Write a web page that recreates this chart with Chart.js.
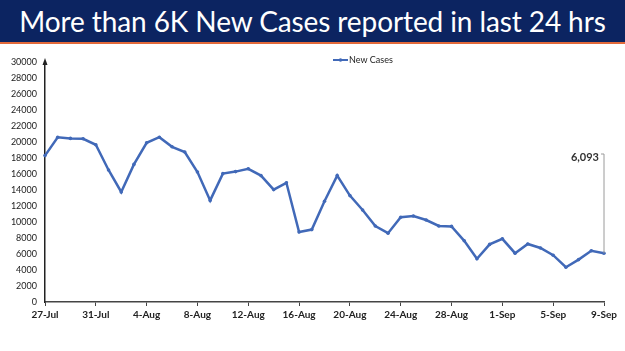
<!DOCTYPE html>
<html lang="en">
<head>
<meta charset="UTF-8" />
<title>New Cases</title>
<script src="https://cdn.jsdelivr.net/npm/chart.js"></script>
<style>
  body { margin: 0; width: 625px; height: 351px; background: #fff; overflow: hidden; font-family: Lato, "Open Sans", sans-serif; }
  .banner { height: 42px; background: #0c2461; border-bottom: 2px solid #e2693a; color: #fff; text-align: center; font-size: 28px; line-height: 42px; letter-spacing: -0.1px; }
  .wrap { position: absolute; left: 0; top: 44px; width: 625px; height: 307px; }
</style>
</head>
<body>

<div class="banner">More than 6K New Cases reported in last 24 hrs</div>

<div class="wrap">
  <canvas id="casesChart"></canvas>
</div>

<script>
  // data
  const dates = ['27-Jul','28-Jul','29-Jul','30-Jul','31-Jul','1-Aug','2-Aug','3-Aug','4-Aug','5-Aug',
                 '6-Aug','7-Aug','8-Aug','9-Aug','10-Aug','11-Aug','12-Aug','13-Aug','14-Aug','15-Aug',
                 '16-Aug','17-Aug','18-Aug','19-Aug','20-Aug','21-Aug','22-Aug','23-Aug','24-Aug','25-Aug',
                 '26-Aug','27-Aug','28-Aug','29-Aug','30-Aug','31-Aug','1-Sep','2-Sep','3-Sep','4-Sep',
                 '5-Sep','6-Sep','7-Sep','8-Sep','9-Sep'];
  const newCases = [18300, 20600, 20450, 20400, 19650, 16500, 13750, 17200, 19900, 20600,
                    19400, 18750, 16250, 12700, 16050, 16300, 16650, 15800, 14050, 14900,
                    8750, 9050, 12600, 15800, 13300, 11500, 9500, 8600, 10600, 10750,
                    10250, 9500, 9450, 7650, 5400, 7200, 7900, 6100, 7250, 6750,
                    5850, 4350, 5300, 6400, 6093];
  const yTicks = [0, 2000, 4000, 6000, 8000, 10000, 12000, 14000, 16000, 18000, 20000, 22000, 24000, 26000, 28000, 30000];
  const labelEvery = 4;

  const lineColor = '#4169b8';

  // arrow on top of the y axis, legend, and the callout for the last value
  const extras = {
    id: 'extras',
    afterDraw(chart) {
      const c = chart.ctx;
      const area = chart.chartArea;
      c.save();

      // y axis arrow
      c.fillStyle = '#222';
      c.beginPath();
      c.moveTo(area.left, area.top - 4);
      c.lineTo(area.left - 2.5, area.top + 3);
      c.lineTo(area.left + 2.5, area.top + 3);
      c.closePath();
      c.fill();

      // legend
      const lx = 333, ly = 16;
      c.strokeStyle = lineColor;
      c.lineWidth = 2;
      c.beginPath();
      c.moveTo(lx, ly);
      c.lineTo(lx + 15, ly);
      c.stroke();
      c.fillStyle = lineColor;
      c.beginPath();
      c.arc(lx + 7.5, ly, 1.8, 0, Math.PI * 2);
      c.fill();
      c.fillStyle = '#222';
      c.font = '9px Lato, sans-serif';
      c.textBaseline = 'middle';
      c.textAlign = 'left';
      c.fillText(chart.data.datasets[0].label, lx + 16, ly + 0.5);

      // callout on the last point
      const meta = chart.getDatasetMeta(0);
      const last = meta.data[meta.data.length - 1];
      const lastVal = newCases[newCases.length - 1];
      const topY = chart.scales.y.getPixelForValue(18500);
      c.strokeStyle = '#9a9a9a';
      c.lineWidth = 1;
      c.beginPath();
      c.moveTo(last.x - 3, topY);
      c.lineTo(last.x, topY);
      c.lineTo(last.x, last.y);
      c.stroke();
      c.fillStyle = '#333';
      c.font = 'bold 11px Lato, sans-serif';
      c.textAlign = 'right';
      c.fillText(lastVal.toLocaleString('en-US'), last.x - 5, topY + 3);

      c.restore();
    }
  };

  new Chart(document.getElementById('casesChart'), {
    type: 'line',
    data: {
      labels: dates,
      datasets: [{
        label: 'New Cases',
        data: newCases,
        borderColor: lineColor,
        backgroundColor: lineColor,
        borderWidth: 2.5,
        pointRadius: 1.8,
        pointBorderWidth: 0,
        tension: 0,
        clip: false
      }]
    },
    options: {
      responsive: true,
      maintainAspectRatio: false,
      animation: false,
      layout: { padding: { top: 18, right: 21, bottom: 0, left: 0 } },
      plugins: {
        legend: { display: false },
        tooltip: { enabled: false }
      },
      scales: {
        x: {
          offset: false,
          afterFit(scale) { scale.height = 49; },
          border: { color: '#444', width: 1.5 },
          grid: {
            drawOnChartArea: false,
            tickLength: 4,
            tickColor: ctx => (ctx.index % labelEvery === 0 ? '#444' : 'transparent')
          },
          ticks: {
            autoSkip: false,
            maxRotation: 0,
            padding: 3,
            color: '#222',
            font: { family: 'Lato, sans-serif', size: 10, weight: 'bold' },
            callback: (v, i) => (i % labelEvery === 0 ? dates[i] : '')
          }
        },
        y: {
          min: 0,
          max: 30000,
          afterFit(scale) { scale.width = 45; },
          afterBuildTicks(scale) { scale.ticks = yTicks.map(v => ({ value: v })); },
          border: { color: '#222', width: 1.5 },
          grid: { display: false, drawTicks: false },
          ticks: {
            padding: 8,
            color: '#222',
            font: { family: 'Lato, sans-serif', size: 9 },
            callback: v => String(v)
          }
        }
      }
    },
    plugins: [extras]
  });
</script>
</body>
</html>
